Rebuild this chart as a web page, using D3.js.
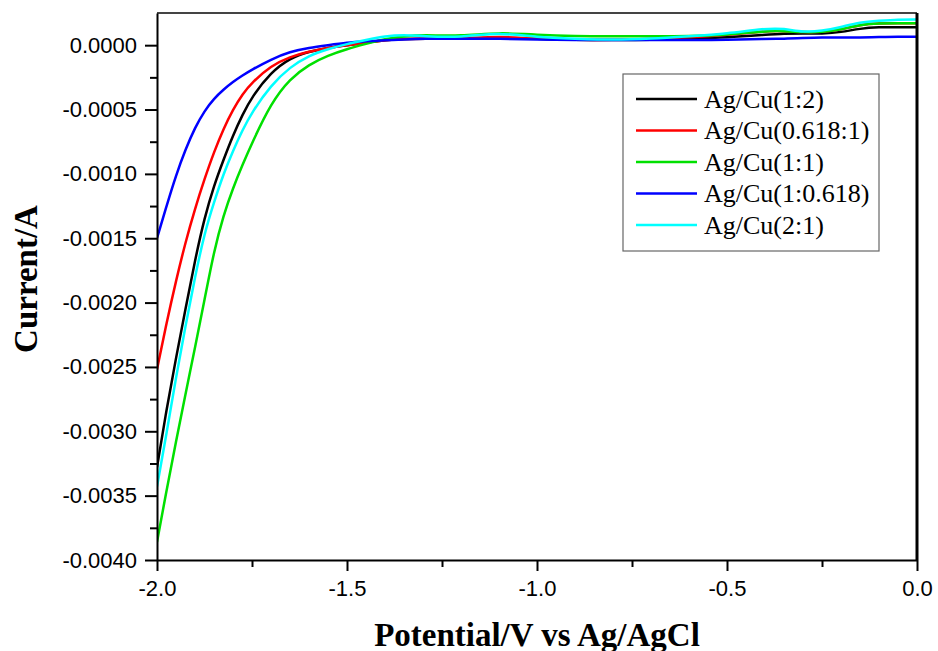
<!DOCTYPE html>
<html lang="en">
<head>
    <meta charset="UTF-8">
    <title>Current vs Potential</title>
    <script src="https://d3js.org/d3.v7.min.js"></script>
    <style>
        body { margin: 0; background: #fff; }
        .tick text { font-family: "Liberation Sans", Arial, sans-serif; fill: #000; }
        .legend text { font-family: "Liberation Serif", "Times New Roman", serif; font-size: 26px; fill: #000; }
        .title { font-family: "Liberation Serif", "Times New Roman", serif; font-weight: bold; font-size: 33px; fill: #000; }
    </style>
</head>
<body>
    <div id="chart"></div>

    <script>
        // Potentials (V vs Ag/AgCl)
        const potential = [-2.0, -1.975, -1.95, -1.925, -1.9, -1.875, -1.85, -1.825, -1.8, -1.775, -1.75,
            -1.7, -1.65, -1.6, -1.55, -1.5, -1.45, -1.4, -1.35, -1.3, -1.2, -1.1, -1.0, -0.9, -0.8,
            -0.7, -0.6, -0.5, -0.4, -0.35, -0.3, -0.25, -0.2, -0.15, -0.1, -0.05, 0.0];

        // Current (A) for each sample
        const agcu_1_2 = [-0.00328, -0.00283, -0.00243, -0.00205, -0.00167, -0.00134, -0.00109, -0.00089, -0.00070, -0.00054, -0.00040,
            -0.00021, -0.00010, -0.00005, -0.00002, 0.0, 0.00002, 0.00004, 0.00005, 0.00005, 0.00005, 0.00006, 0.00005, 0.00004, 0.00004,
            0.00004, 0.00005, 0.00006, 0.00008, 0.00009, 0.00009, 0.00009, 0.00010, 0.00013, 0.00014, 0.00014, 0.00014];
        const agcu_0618_1 = [-0.00252, -0.00216, -0.00183, -0.00153, -0.00127, -0.00104, -0.00083, -0.00065, -0.00050, -0.00038, -0.00029,
            -0.00016, -0.00009, -0.00005, -0.00002, 0.0, 0.00002, 0.00004, 0.00005, 0.00005, 0.00005, 0.00007, 0.00005, 0.00004, 0.00004,
            0.00005, 0.00006, 0.00008, 0.00011, 0.00011, 0.00010, 0.00010, 0.00012, 0.00016, 0.00017, 0.00017, 0.00017];
        const agcu_1_1 = [-0.00386, -0.00346, -0.00308, -0.00271, -0.00235, -0.00198, -0.00160, -0.00132, -0.00111, -0.00093, -0.00076,
            -0.00045, -0.00026, -0.00015, -0.00008, -0.00003, 0.00001, 0.00005, 0.00007, 0.00008, 0.00007, 0.00010, 0.00008, 0.00007, 0.00007,
            0.00007, 0.00007, 0.00008, 0.00011, 0.00011, 0.00010, 0.00010, 0.00012, 0.00016, 0.00017, 0.00017, 0.00017];
        const agcu_1_0618 = [-0.00150, -0.00125, -0.00101, -0.00081, -0.00064, -0.00051, -0.000415, -0.000345, -0.000285, -0.000235, -0.00019,
            -0.00011, -0.00005, -0.00002, 0.0, 0.00002, 0.00003, 0.00004, 0.000045, 0.00005, 0.00005, 0.00005, 0.000045, 0.00004, 0.00004,
            0.00004, 0.00004, 0.00004, 0.00005, 0.00005, 0.000055, 0.00006, 0.00006, 0.00006, 0.000063, 0.000065, 0.000066];
        const agcu_2_1 = [-0.00343, -0.00302, -0.00258, -0.00218, -0.00180, -0.00146, -0.00122, -0.00100, -0.00082, -0.00066, -0.00052,
            -0.00031, -0.00017, -0.00008, -0.00003, 0.00001, 0.00004, 0.00007, 0.00008, 0.00007, 0.00006, 0.00010, 0.00006, 0.00005, 0.00004,
            0.00005, 0.00007, 0.00009, 0.00013, 0.00013, 0.00010, 0.00011, 0.00014, 0.00018, 0.00019, 0.00020, 0.00020];

        const seriesNames = ["Ag/Cu(1:2)", "Ag/Cu(0.618:1)", "Ag/Cu(1:1)", "Ag/Cu(1:0.618)", "Ag/Cu(2:1)"];
        const seriesValues = [agcu_1_2, agcu_0618_1, agcu_1_1, agcu_1_0618, agcu_2_1];
        const seriesColors = ["#000000", "#ff0000", "#00e000", "#0000ff", "#00ffff"];

        const xTicks = [-2.0, -1.5, -1.0, -0.5, 0.0];
        const yTicks = [0.0, -0.0005, -0.001, -0.0015, -0.002, -0.0025, -0.003, -0.0035, -0.004];

        const width = 938, height = 651;
        const margin = {top: 13, right: 21, bottom: 91, left: 157};

        const svg = d3.select("#chart").append("svg")
            .attr("width", width)
            .attr("height", height);

        const x = d3.scaleLinear().domain([-2.0, 0.0]).range([margin.left, width - margin.right]);
        const y = d3.scaleLinear().domain([-0.004, 0.00025]).range([height - margin.bottom, margin.top]);

        // clip for curves
        svg.append("clipPath").attr("id", "plotclip")
            .append("rect")
            .attr("x", margin.left).attr("y", margin.top)
            .attr("width", width - margin.left - margin.right)
            .attr("height", height - margin.bottom - margin.top);

        // curves (smoothed through the read-off points)
        const line = d3.line()
            .x((d, i) => x(potential[i]))
            .y(d => y(d))
            .curve(d3.curveBasis);

        svg.append("g").attr("clip-path", "url(#plotclip)")
            .selectAll("path")
            .data(seriesValues)
            .enter()
            .append("path")
            .attr("d", d => line(d))
            .attr("fill", "none")
            .attr("stroke", (d, i) => seriesColors[i])
            .attr("stroke-width", 2.5);

        // frame (top and right)
        svg.append("line")
            .attr("x1", margin.left).attr("x2", width - margin.right)
            .attr("y1", margin.top).attr("y2", margin.top)
            .attr("stroke", "#444").attr("stroke-width", 2);
        svg.append("line")
            .attr("x1", width - margin.right).attr("x2", width - margin.right)
            .attr("y1", margin.top).attr("y2", height - margin.bottom)
            .attr("stroke", "#000").attr("stroke-width", 3);

        // minor ticks
        const xMinor = d3.range(-1.75, 0, 0.5);
        const yMinor = d3.range(-0.00375, 0.0002, 0.0005);

        svg.append("g")
            .attr("transform", `translate(0,${height - margin.bottom})`)
            .call(d3.axisBottom(x).tickValues(xMinor).tickSize(7).tickFormat(""))
            .call(g => g.select(".domain").remove())
            .selectAll("line").attr("stroke-width", 2);
        svg.append("g")
            .attr("transform", `translate(${margin.left},0)`)
            .call(d3.axisLeft(y).tickValues(yMinor).tickSize(7).tickFormat(""))
            .call(g => g.select(".domain").remove())
            .selectAll("line").attr("stroke-width", 2);

        // major axes
        const xAxis = svg.append("g")
            .attr("transform", `translate(0,${height - margin.bottom})`)
            .call(d3.axisBottom(x).tickValues(xTicks).tickSize(11).tickSizeOuter(0).tickPadding(9)
                .tickFormat(d => d3.format(".1f")(d).replace("\u2212", "-")));
        xAxis.selectAll("text").attr("font-size", 22);
        xAxis.selectAll("line").attr("stroke-width", 2);
        xAxis.select(".domain").attr("stroke-width", 2);

        const yAxis = svg.append("g")
            .attr("transform", `translate(${margin.left},0)`)
            .call(d3.axisLeft(y).tickValues(yTicks).tickSize(12).tickSizeOuter(0).tickPadding(8)
                .tickFormat(d => d3.format(".4f")(d).replace("\u2212", "-")));
        yAxis.selectAll("text").attr("font-size", 22);
        yAxis.selectAll("line").attr("stroke-width", 2);
        yAxis.select(".domain").attr("stroke-width", 2);

        // axis titles
        svg.append("text")
            .attr("class", "title")
            .attr("x", (margin.left + width - margin.right) / 2)
            .attr("y", 646)
            .attr("text-anchor", "middle")
            .text("Potential/V vs Ag/AgCl");

        svg.append("text")
            .attr("class", "title")
            .attr("transform", "translate(37,279) rotate(-90)")
            .attr("text-anchor", "middle")
            .text("Current/A");

        // legend
        const legend = svg.append("g").attr("class", "legend");
        legend.append("rect")
            .attr("x", 623).attr("y", 74)
            .attr("width", 256).attr("height", 177)
            .attr("fill", "#fff")
            .attr("stroke", "#666").attr("stroke-width", 1.2);

        const rows = legend.selectAll("g.row")
            .data(seriesNames)
            .enter()
            .append("g")
            .attr("class", "row")
            .attr("transform", (d, i) => `translate(0,${99 + i * 31.5})`);
        rows.append("line")
            .attr("x1", 636).attr("x2", 697)
            .attr("stroke", (d, i) => seriesColors[i])
            .attr("stroke-width", 2.5);
        rows.append("text")
            .attr("x", 704)
            .attr("dy", "0.33em")
            .text(d => d);
    </script>
</body>
</html>
